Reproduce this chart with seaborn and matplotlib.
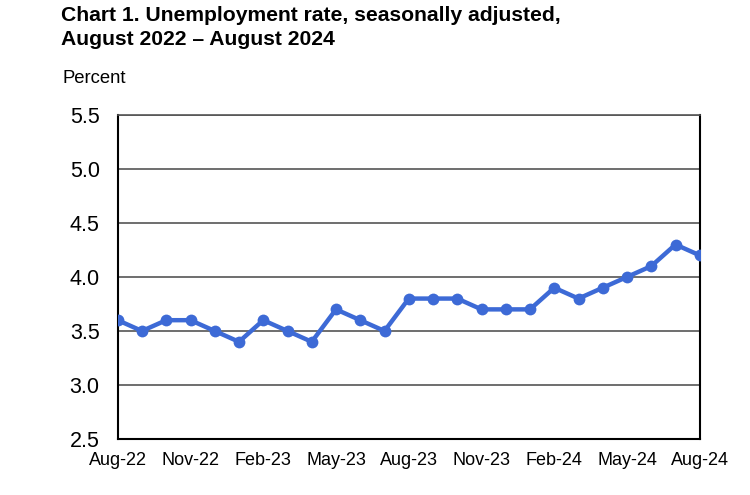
import pandas as pd
import matplotlib
matplotlib.use("Agg")
import matplotlib.pyplot as plt
import seaborn as sns

months = ["Aug-22", "Sep-22", "Oct-22", "Nov-22", "Dec-22", "Jan-23", "Feb-23", "Mar-23",
          "Apr-23", "May-23", "Jun-23", "Jul-23", "Aug-23", "Sep-23", "Oct-23", "Nov-23",
          "Dec-23", "Jan-24", "Feb-24", "Mar-24", "Apr-24", "May-24", "Jun-24", "Jul-24", "Aug-24"]
rate = [3.6, 3.5, 3.6, 3.6, 3.5, 3.4, 3.6, 3.5, 3.4, 3.7, 3.6, 3.5, 3.8, 3.8, 3.8, 3.7,
        3.7, 3.7, 3.9, 3.8, 3.9, 4.0, 4.1, 4.3, 4.2]
y_ticks = [2.5, 3.0, 3.5, 4.0, 4.5, 5.0, 5.5]

df = pd.DataFrame({"month": months, "rate": rate})
df["pos"] = range(len(df))

sns.set_style("white")
plt.rcParams["font.family"] = ["Liberation Sans", "DejaVu Sans"]
plt.rcParams["text.color"] = "black"
plt.rcParams["xtick.color"] = "black"
plt.rcParams["ytick.color"] = "black"

fig = plt.figure(figsize=(7.5, 4.95), dpi=100)
ax = fig.add_axes([0.157, 0.113, 0.776, 0.655])

# horizontal grid lines
for t in y_ticks[1:]:
    ax.axhline(t, color="#555555", linewidth=1.2, zorder=1)

sns.lineplot(data=df, x="pos", y="rate", ax=ax, color="#3d6ad6", linewidth=3.2,
             marker="o", markersize=8.5, markeredgewidth=0, zorder=3)

ax.set_xlim(0, len(df) - 1)
ax.set_ylim(2.5, 5.5)
ax.set_yticks(y_ticks)
ax.set_yticklabels([f"{t:.1f}" for t in y_ticks], fontsize=15.5)
ax.set_xticks(df["pos"][::3])
ax.set_xticklabels(df["month"][::3], fontsize=13)
ax.set_xticks(df["pos"], minor=True)
ax.tick_params(axis="x", which="both", direction="in", length=4, width=1.2, color="black",
               labelcolor="black", pad=9)
ax.tick_params(axis="y", length=0, pad=13, labelcolor="black")
ax.set_xlabel("")
ax.set_ylabel("")

for s in ax.spines.values():
    s.set_color("black")
    s.set_linewidth(1.5)
ax.spines["top"].set_color("#555555")
ax.spines["top"].set_linewidth(1.2)

fig.text(0.081, 1 - 21 / 495, "Chart 1. Unemployment rate, seasonally adjusted,",
         fontsize=15.2, fontweight="bold", va="baseline", ha="left", color="black")
fig.text(0.081, 1 - 45 / 495, "August 2022 \u2013 August 2024",
         fontsize=15.2, fontweight="bold", va="baseline", ha="left", color="black")
fig.text(0.083, 1 - 83 / 495, "Percent", fontsize=13.3, va="baseline", ha="left", color="black")

fig.savefig("out.png", dpi=100)
